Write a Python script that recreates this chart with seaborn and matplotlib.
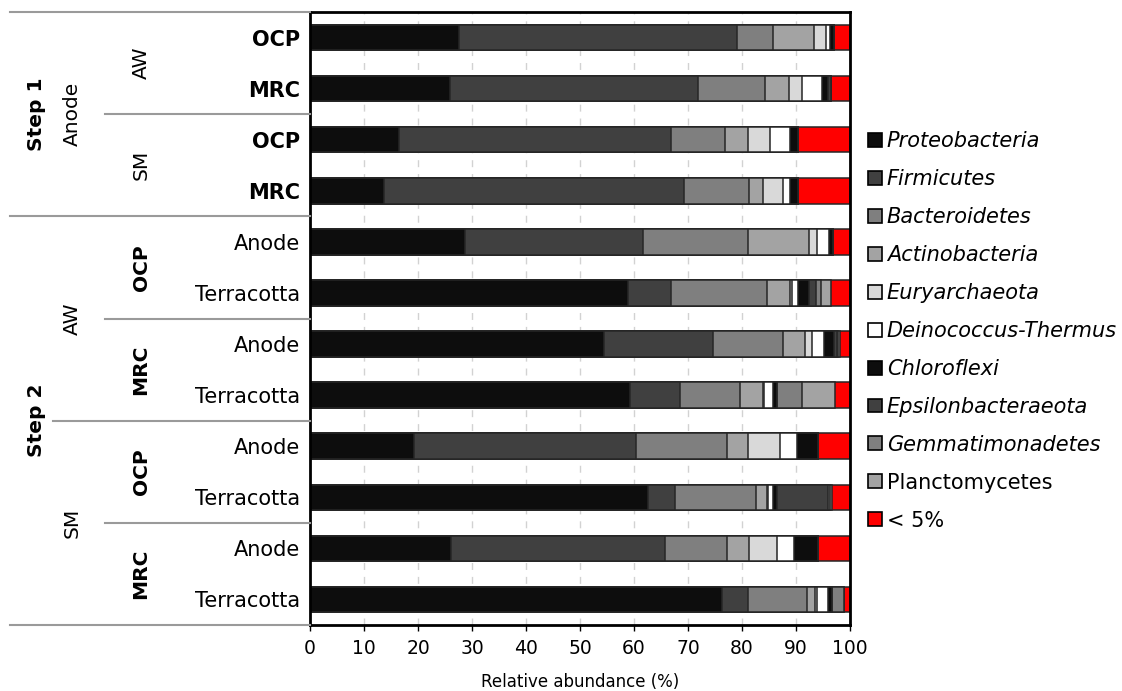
import numpy as np
import pandas as pd
import matplotlib
matplotlib.use("Agg")
import matplotlib.pyplot as plt
from matplotlib.patches import Patch
from matplotlib.lines import Line2D
from matplotlib.transforms import blended_transform_factory
import seaborn as sns

# Samples, top to bottom
sample_ids = ["S1-AW-OCP", "S1-AW-MRC", "S1-SM-OCP", "S1-SM-MRC",
              "S2-AW-OCP-A", "S2-AW-OCP-T", "S2-AW-MRC-A", "S2-AW-MRC-T",
              "S2-SM-OCP-A", "S2-SM-OCP-T", "S2-SM-MRC-A", "S2-SM-MRC-T"]
tick_labels = ["OCP", "MRC", "OCP", "MRC",
               "Anode", "Terracotta", "Anode", "Terracotta",
               "Anode", "Terracotta", "Anode", "Terracotta"]

# Relative abundance (%) per phylum
proteobacteria = [27.6, 25.9, 16.4, 13.7, 28.7, 58.9, 54.5, 59.2, 19.2, 62.6, 26.2, 76.3]
firmicutes = [51.5, 46.0, 50.5, 55.5, 32.9, 8.0, 20.2, 9.3, 41.1, 4.9, 39.6, 4.8]
bacteroidetes = [6.7, 12.3, 10.0, 12.1, 19.5, 17.8, 12.8, 11.2, 16.9, 15.0, 11.4, 11.0]
actinobacteria = [7.6, 4.5, 4.2, 2.5, 11.3, 4.1, 4.2, 4.1, 3.9, 2.2, 4.1, 1.5]
euryarchaeota = [2.2, 2.5, 4.1, 3.7, 1.5, 0.5, 1.2, 0.3, 6.0, 0.2, 5.2, 0.3]
deinococcus = [0.7, 3.7, 3.6, 1.3, 2.3, 1.0, 2.2, 1.7, 3.1, 0.8, 3.1, 2.0]
chloroflexi = [0.7, 1.1, 1.6, 1.6, 0.6, 2.1, 1.9, 0.6, 3.9, 0.7, 4.5, 0.8]
epsilonbacteraeota = [0.0, 0.5, 0.0, 0.0, 0.0, 1.3, 0.6, 0.0, 0.0, 9.6, 0.0, 0.0]
gemmatimonadetes = [0.0, 0.0, 0.0, 0.0, 0.0, 0.9, 0.2, 4.8, 0.0, 0.3, 0.0, 2.2]
planctomycetes = [0.0, 0.0, 0.0, 0.0, 0.0, 1.9, 0.3, 6.0, 0.0, 0.3, 0.0, 0.0]
minor = [3.0, 3.5, 9.6, 9.6, 3.2, 3.5, 1.9, 2.8, 5.9, 3.4, 5.9, 1.1]

phyla = ["Proteobacteria", "Firmicutes", "Bacteroidetes", "Actinobacteria",
         "Euryarchaeota", "Deinococcus-Thermus", "Chloroflexi",
         "Epsilonbacteraeota", "Gemmatimonadetes", "Planctomycetes", "< 5%"]
italic_names = [True, True, True, True, True, True, True, True, True, False, False]
colors = ["#0d0d0d", "#404040", "#7f7f7f", "#a3a3a3", "#d9d9d9", "#ffffff",
          "#0d0d0d", "#404040", "#7f7f7f", "#a3a3a3", "#ff0000"]

series = [proteobacteria, firmicutes, bacteroidetes, actinobacteria, euryarchaeota,
          deinococcus, chloroflexi, epsilonbacteraeota, gemmatimonadetes,
          planctomycetes, minor]

df = pd.DataFrame({name: vals for name, vals in zip(phyla, series)})
cum = df[phyla].cumsum(axis=1)
cum["sample"] = sample_ids

plt.rcParams["font.family"] = ["DejaVu Sans"]
fig = plt.figure(figsize=(11.22, 6.91), dpi=100)
ax = fig.add_axes([310 / 1122, 1 - 625 / 691, 540 / 1122, 613 / 691])

# vertical dashed grid behind the bars
for gx in range(10, 100, 10):
    ax.axvline(gx, color="#d2d2d2", lw=1.0, ls=(0, (5, 5)), zorder=0)

# stacked bars: draw cumulative totals from the outermost layer inwards
for name, col in reversed(list(zip(phyla, colors))):
    sns.barplot(data=cum, x=name, y="sample", orient="h", order=sample_ids,
                color=col, saturation=1, width=0.5, edgecolor="#262626",
                linewidth=1.1, errorbar=None, ax=ax, zorder=2)

ax.set_xlim(0, 100)
ax.set_ylim(11.5, -0.5)
ax.set_xticks(range(0, 101, 10))
ax.tick_params(axis="x", labelsize=13.5, length=4, width=1, pad=6)
ax.tick_params(axis="y", length=0, pad=7)
ax.set_yticks(range(len(sample_ids)))
ax.set_yticklabels(tick_labels, fontsize=15)
for i, t in enumerate(ax.get_yticklabels()):
    if i < 4:
        t.set_fontweight("bold")
ax.set_xlabel("Relative abundance (%)", fontsize=12, labelpad=11)
ax.set_ylabel("")
for sp in ax.spines.values():
    sp.set_color("black")
    sp.set_linewidth(2)

# hierarchical group labels and separators on the left
tr = blended_transform_factory(fig.transFigure, ax.transData)
def fx(px):
    return px / 1122

sep_lines = [(-0.5, 10), (1.5, 105), (3.5, 10), (5.5, 105), (7.5, 53), (9.5, 105), (11.5, 10)]
for yv, x0 in sep_lines:
    fig.add_artist(Line2D([fx(x0), fx(310)], [yv, yv], transform=tr,
                          color="#9a9a9a", lw=1.5, clip_on=False))

lab_kw = dict(transform=tr, rotation=90, ha="center", va="center", fontsize=14.5)
fig.text(fx(36), 1.5, "Step 1", fontweight="bold", **lab_kw)
fig.text(fx(72), 1.5, "Anode", **lab_kw)
fig.text(fx(141), 0.5, "AW", **lab_kw)
fig.text(fx(141), 2.5, "SM", **lab_kw)
fig.text(fx(36), 7.5, "Step 2", fontweight="bold", **lab_kw)
fig.text(fx(72), 5.5, "AW", **lab_kw)
fig.text(fx(72), 9.5, "SM", **lab_kw)
for yv, lab in [(4.5, "OCP"), (6.5, "MRC"), (8.5, "OCP"), (10.5, "MRC")]:
    fig.text(fx(141), yv, lab, fontweight="bold", **lab_kw)

# legend
handles = [Patch(facecolor=c, edgecolor="black", linewidth=1.2) for c in colors]
leg = fig.legend(handles, phyla, loc="center left",
                 bbox_to_anchor=(868 / 1122, 1 - 331 / 691), frameon=False,
                 fontsize=15, handlelength=0.65, handleheight=0.65,
                 handletextpad=0.25, labelspacing=0.86, borderpad=0,
                 borderaxespad=0)
for t, it in zip(leg.get_texts(), italic_names):
    if it:
        t.set_fontstyle("italic")

fig.savefig("out.png", dpi=100, facecolor="white")
